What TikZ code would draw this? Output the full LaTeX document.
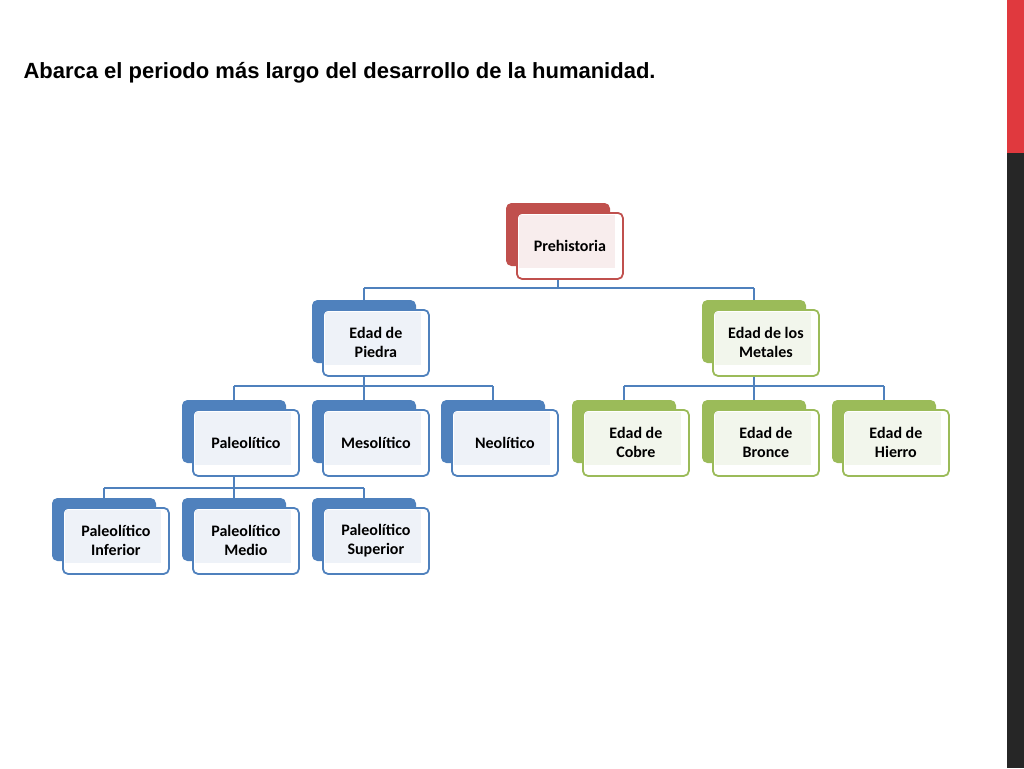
\documentclass[tikz,border=0pt]{standalone}
\usepackage{fontspec}
\setmainfont{Liberation Sans}
\newfontfamily\boxfont{Carlito}
\definecolor{bdark}{HTML}{4F81BD}
\definecolor{blight}{HTML}{EEF2F8}
\definecolor{gdark}{HTML}{9BBB59}
\definecolor{glight}{HTML}{F2F6EC}
\definecolor{rdark}{HTML}{C0504D}
\definecolor{rlight}{HTML}{F8EDED}
\definecolor{barred}{HTML}{E0393E}
\definecolor{bargray}{HTML}{262626}
\tikzset{
 backbox/.style={draw=#1,fill=#1,rounded corners=5pt,minimum width=103pt,minimum height=62pt,anchor=north west,line width=1pt},
 frontbox/.style={draw=#1,fill=white,rounded corners=5pt,minimum width=106pt,minimum height=66pt,anchor=north west,line width=1.8pt},
 conn/.style={draw=#1,line width=1.8pt},
}
\newcommand{\mkblk}[6]{%
 \node[backbox=#5] (#1b) at (#2,#3) {};
 \node[frontbox=#5,font=\boxfont\bfseries\fontsize{16}{19}\selectfont,align=center,text=black] (#1) at (#2+10,#3+9) {};
 \fill[#6] ([shift={(3pt,-3pt)}]#1.north west) rectangle ([shift={(-9pt,12pt)}]#1.south east);
 \node[font=\boxfont\bfseries\fontsize{16}{19}\selectfont,align=center] at (#1.center) {#4};
}
\begin{document}
\begin{tikzpicture}[x=1pt,y=-1pt]
\useasboundingbox (0,0) rectangle (1024,768);
\fill[white] (0,0) rectangle (1024,768);
\fill[barred] (1007,0) rectangle (1024,153);
\fill[bargray] (1007,153) rectangle (1024,768);
\node[anchor=west,font=\bfseries\fontsize{22}{26}\selectfont] (title) at (20,73) {Abarca el periodo más largo del desarrollo de la humanidad.};
% connectors first
\coordinate (y1) at (0,288);
\coordinate (y2) at (0,386);
\coordinate (y3) at (0,488);
\mkblk{pre}{506}{203}{Prehistoria}{rdark}{rlight}
\mkblk{pie}{312}{300}{Edad de\\Piedra}{bdark}{blight}
\mkblk{met}{702}{300}{Edad de los\\Metales}{gdark}{glight}
\mkblk{pal}{182}{400}{Paleolítico}{bdark}{blight}
\mkblk{mes}{312}{400}{Mesolítico}{bdark}{blight}
\mkblk{neo}{441}{400}{Neolítico}{bdark}{blight}
\mkblk{cob}{572}{400}{Edad de\\Cobre}{gdark}{glight}
\mkblk{bro}{702}{400}{Edad de\\Bronce}{gdark}{glight}
\mkblk{hie}{832}{400}{Edad de\\Hierro}{gdark}{glight}
\mkblk{inf}{52}{498}{Paleolítico\\Inferior}{bdark}{blight}
\mkblk{med}{182}{498}{Paleolítico\\Medio}{bdark}{blight}
\mkblk{sup}{312}{498}{Paleolítico\\Superior}{bdark}{blight}
% connectors
\draw[conn=bdark] (preb.south |- pre.south) -- (preb.south |- y1);
\draw[conn=bdark] (pieb.north |- y1) -- (metb.north |- y1);
\draw[conn=bdark] (pieb.north |- y1) -- (pieb.north);
\draw[conn=bdark] (metb.north |- y1) -- (metb.north);
\draw[conn=bdark] (pieb.south |- pie.south) -- (pieb.south |- y2);
\draw[conn=bdark] (palb.north |- y2) -- (neob.north |- y2);
\foreach \n in {palb,mesb,neob} \draw[conn=bdark] (\n.north |- y2) -- (\n.north);
\draw[conn=bdark] (metb.south |- met.south) -- (metb.south |- y2);
\draw[conn=bdark] (cobb.north |- y2) -- (hieb.north |- y2);
\foreach \n in {cobb,brob,hieb} \draw[conn=bdark] (\n.north |- y2) -- (\n.north);
\draw[conn=bdark] (palb.south |- pal.south) -- (palb.south |- y3);
\draw[conn=bdark] (infb.north |- y3) -- (supb.north |- y3);
\foreach \n in {infb,medb,supb} \draw[conn=bdark] (\n.north |- y3) -- (\n.north);
\end{tikzpicture}
\end{document}
